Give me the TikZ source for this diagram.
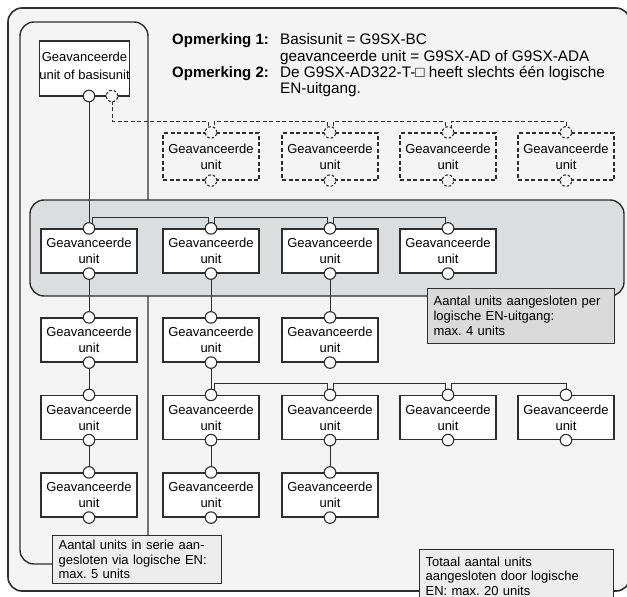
\documentclass[tikz,border=0pt]{standalone}
\usepackage{fontspec}
\setmainfont{Liberation Sans}
\usetikzlibrary{calc}
\frenchspacing
\pgfdeclarelayer{back}
\pgfdeclarelayer{wires}
\pgfsetlayers{back,wires,main}
\definecolor{bgc}{HTML}{F4F4F4}
\definecolor{bandc}{HTML}{DCDDDF}
\definecolor{ink}{HTML}{2E2E2E}
\definecolor{notedark}{HTML}{DADADA}
\definecolor{notelight}{HTML}{EDEDED}
\tikzset{
  unitbox/.style={draw=ink, line width=1.2pt, fill=white, minimum width=96pt, minimum height=44pt,
    inner sep=0pt, align=center, font=\fontsize{13}{16}\selectfont},
  dunitbox/.style={unitbox, minimum height=47pt, dash pattern=on 4pt off 2.5pt, fill=bgc},
  port/.style={circle, draw=ink, line width=1.1pt, fill=white, minimum size=11.5pt, inner sep=0pt},
  dport/.style={port, dash pattern=on 2.6pt off 2pt, fill=bgc},
  wire/.style={draw=ink, line width=1pt},
  dwire/.style={wire, dash pattern=on 4pt off 2.5pt},
  notebox/.style={draw=ink, line width=1.2pt, anchor=north west, inner xsep=6pt, inner ysep=0pt,
    align=left, font=\fontsize{13}{15}\selectfont},
  headtext/.style={anchor=base west, inner sep=0pt, font=\fontsize{15.3}{16}\selectfont},
  headlabel/.style={headtext, font=\fontsize{15}{16}\selectfont\bfseries},
  regionbox/.style={draw=ink, line width=1.4pt, rounded corners=14pt},
}
\newcommand{\mkunit}[4]{% name, x, y, text
  \node[unitbox] (#1) at (#2,#3) {#4};
  \node[port] (#1t) at (#1.north) {};
  \node[port] (#1b) at (#1.south) {};
}
\newcommand{\chainlink}[3][wire]{% from port, to port
  \draw[#1] ([xshift=-3pt]#3.center) -- ++(0,-11) -| ([xshift=3pt]#2.center);
}
\begin{document}
\begin{tikzpicture}[x=1pt,y=-1pt]
\useasboundingbox (0,0) rectangle (627,597);
\begin{pgfonlayer}{back}
  \draw[regionbox, line width=1.6pt, fill=bgc] (8,8) rectangle (630,591);
  \draw[regionbox, fill=bgc] (20,22) rectangle (148,564);
  \draw[regionbox, fill=bandc] (30,200) rectangle (624,296);
\end{pgfonlayer}

% notes at the top
\node[headlabel] (h1) at (172,45) {Opmerking 1:};
\node[headtext] (t1) at (280,45) {Basisunit = G9SX-BC};
\node[headtext] (t2) at (280,61) {geavanceerde unit = G9SX-AD of G9SX-ADA};
\node[headlabel] (h2) at (172,77) {Opmerking 2:};
\node[headtext] (t3) at (280,77) {De G9SX-AD322-T-□ heeft slechts één logische};
\node[headtext] (t4) at (280,93) {EN-uitgang.};

% top-left unit
\node[unitbox, minimum width=87pt, minimum height=55pt, text depth=5pt,
  font=\fontsize{13}{18}\selectfont] (top) at (84.5,68.5) {Geavanceerde\\unit of basisunit};
\node[port] (p0s) at (89,96) {};
\node[dport] (p0d) at (112,96) {};

% dashed optional units
\foreach \n/\x in {d2/211,d3/330,d4/448,d5/566}{
  \node[dunitbox] (\n) at (\x,156.5) {Geavanceerde\\unit};
  \node[dport] (\n t) at (\n.north) {};
  \node[dport] (\n b) at (\n.south) {};
}

% units
\mkunit{u11}{89}{251}{Geavanceerde\\unit}
\mkunit{u12}{211}{251}{Geavanceerde\\unit}
\mkunit{u13}{330}{251}{Geavanceerde\\unit}
\mkunit{u14}{448}{251}{Geavanceerde\\unit}
\mkunit{u21}{89}{340}{Geavanceerde\\unit}
\mkunit{u22}{211}{340}{Geavanceerde\\unit}
\mkunit{u23}{330}{340}{Geavanceerde\\unit}
\mkunit{u31}{89}{417.5}{Geavanceerde\\unit}
\mkunit{u32}{211}{417.5}{Geavanceerde\\unit}
\mkunit{u33}{330}{417.5}{Geavanceerde\\unit}
\mkunit{u34}{448}{417.5}{Geavanceerde\\unit}
\mkunit{u35}{566}{417.5}{Geavanceerde\\unit}
\mkunit{u41}{89}{495}{Geavanceerde\\unit}
\mkunit{u42}{211}{495}{Geavanceerde\\unit}
\mkunit{u43}{330}{495}{Geavanceerde\\unit}

% notes
\node[notebox, fill=notedark, minimum width=187pt, minimum height=55pt, text width=175pt] (n1) at (427,288)
  {Aantal units aangesloten per\\logische EN-uitgang:\\max. 4 units};
\node[notebox, fill=notelight, minimum width=169pt, minimum height=48pt, text width=157pt,
  font=\fontsize{13}{14.5}\selectfont] (n2) at (52,535)
  {Aantal units in serie aan-\\gesloten via logische EN:\\max. 5 units};
\node[notebox, fill=notelight, minimum width=194pt, minimum height=53pt, text width=182pt,
  font=\fontsize{13}{14.5}\selectfont] (n3) at (419,549)
  {Totaal aantal units\\aangesloten door logische\\EN: max. 20 units};

% connectors
\begin{pgfonlayer}{wires}
  \draw[dwire] ([xshift=-3pt]d2t.center) -- ++(0,-11) -| (p0d.center);
  \chainlink[dwire]{d2t}{d3t}
  \chainlink[dwire]{d3t}{d4t}
  \draw[dwire] (d5t.center) -- ++(0,-11) -| ([xshift=3pt]d4t.center);

  \draw[wire] (p0s.center) -- (u11t.center);
  \chainlink{u11t}{u12t}
  \chainlink{u12t}{u13t}
  \chainlink{u13t}{u14t}
  \draw[wire] (u11b.center) -- (u21t.center);
  \draw[wire] (u12b.center) -- (u22t.center);
  \draw[wire] (u13b.center) -- (u23t.center);
  \draw[wire] (u21b.center) -- (u31t.center);
  \draw[wire] (u22b.center) -- (u32t.center);
  \chainlink{u32t}{u33t}
  \chainlink{u33t}{u34t}
  \draw[wire] (u35t.center) -- ++(0,-11) -| ([xshift=3pt]u34t.center);
  \draw[wire] (u31b.center) -- (u41t.center);
  \draw[wire] (u32b.center) -- (u42t.center);
  \draw[wire] (u33b.center) -- (u43t.center);
\end{pgfonlayer}
\end{tikzpicture}
\end{document}
